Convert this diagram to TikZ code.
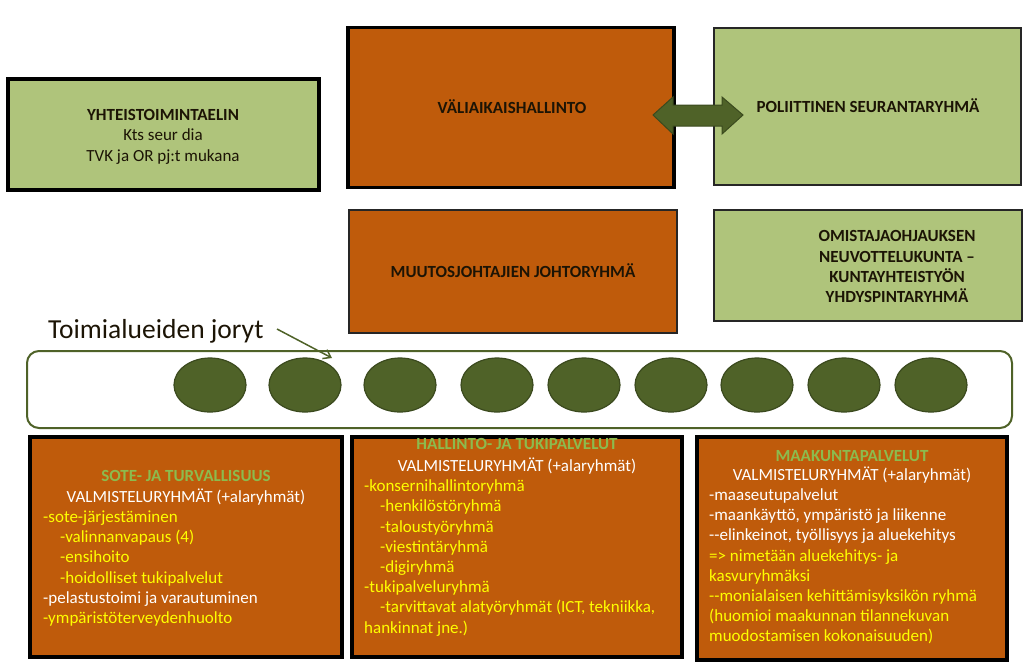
\documentclass[tikz,border=0pt]{standalone}
\usepackage{fontspec}
\setmainfont{Carlito}
\usetikzlibrary{arrows.meta,shapes.geometric}
\definecolor{orangefill}{HTML}{BF5B0B}
\definecolor{greenfill}{HTML}{AFC47B}
\definecolor{olive}{HTML}{4F6228}
\definecolor{olivedark}{HTML}{3B4A1E}
\definecolor{headgreen}{HTML}{8CBB4E}
\definecolor{txtyellow}{HTML}{FFFF00}
\definecolor{darktxt}{HTML}{1C1405}
\begin{document}
\begin{tikzpicture}[x=1pt,y=-1pt,
  thickbox/.style={draw=black,line width=3.5pt,inner sep=0pt},
  thinbox/.style={draw=black!85,line width=1.5pt,inner sep=0pt},
  obox/.style={fill=orangefill},
  gbox/.style={fill=greenfill},
  toptext/.style={font=\fontsize{17}{20.3}\selectfont\bfseries,text=darktxt,inner sep=0pt,anchor=base},
  toptextreg/.style={font=\fontsize{17}{20.3}\selectfont,text=darktxt,inner sep=0pt,anchor=base},
  blob/.style={ellipse,fill=olive,draw=olivedark,line width=1.2pt,minimum width=72pt,minimum height=54pt,inner sep=0pt},
  headg/.style={font=\fontsize{17}{20.2}\selectfont\bfseries,text=headgreen,inner sep=0pt,anchor=base},
  headw/.style={font=\fontsize{17}{20.2}\selectfont,text=white,inner sep=0pt,anchor=base},
  ly/.style={font=\fontsize{17}{20.2}\selectfont,text=txtyellow,inner sep=0pt,anchor=base west},
  lw/.style={font=\fontsize{17}{20.2}\selectfont,text=white,inner sep=0pt,anchor=base west}
]
\useasboundingbox (0,0) rectangle (1024,665);

% top row
\node[thickbox,gbox,minimum width=311pt,minimum height=111pt] (yht) at (163.5,134.5) {};
\node[toptext] (yhtA) at (163,120) {YHTEISTOIMINTAELIN};
\node[toptextreg] (yhtB) at (163,140.5) {Kts seur dia};
\node[toptextreg] (yhtC) at (163,161) {TVK ja OR pj:t mukana};

\node[thickbox,obox,minimum width=326pt,minimum height=160pt] (vali) at (511,107.5) {};
\node[toptext] (valiT) at (512,113) {VÄLIAIKAISHALLINTO};

\node[thinbox,gbox,minimum width=307pt,minimum height=157pt] (pol) at (867.5,106.5) {};
\node[toptext] (polT) at (868,112.7) {POLIITTINEN SEURANTARYHMÄ};

% double arrow between the two boxes
\filldraw[fill=olive,draw=olivedark,line width=1pt]
  (653,115) -- (673,97) -- (673,105) -- (722,105) -- (722,97) -- (743,115)
  -- (722,134) -- (722,126) -- (673,126) -- (673,134) -- cycle;

% second row
\node[thinbox,obox,minimum width=328pt,minimum height=123pt] (muu) at (513,271.5) {};
\node[toptext] (muuT) at (513,277) {MUUTOSJOHTAJIEN JOHTORYHMÄ};

\node[thinbox,gbox,minimum width=308pt,minimum height=111pt] (omi) at (868,265.5) {};
\node[toptext] (omiA) at (897,241.7) {OMISTAJAOHJAUKSEN};
\node[toptext] (omiB) at (897,262) {NEUVOTTELUKUNTA –};
\node[toptext] (omiC) at (897,282.5) {KUNTAYHTEISTYÖN};
\node[toptext] (omiD) at (897,302.5) {YHDYSPINTARYHMÄ};

% joryt band
\node[font=\fontsize{27.5}{30}\selectfont,anchor=base west,inner sep=0pt,text=darktxt] (jor) at (48,338.3) {Toimialueiden joryt};
\node[draw=olive,line width=2pt,rounded corners=12pt,minimum width=985pt,minimum height=77pt,inner sep=0pt] (band) at (519.5,389.5) {};
\coordinate (arrS) at (277,329);
\coordinate (arrE) at (332,358);
\draw[olive,line width=1.5pt,-{Straight Barb[length=7pt,width=10pt]}] (arrS) -- (arrE);

\foreach \i/\x in {1/210,2/305,3/400,4/497,5/584,6/671,7/757,8/844,9/931}{
  \node[blob] (b\i) at (\x,385) {};
}

% bottom left box
\node[thickbox,obox,minimum width=312pt,minimum height=220pt] (sote) at (186,547) {};
\node[headg] (soteH) at (186,481.7) {SOTE- JA TURVALLISUUS};
\node[headw] (soteV) at (186,502.5) {VALMISTELURYHMÄT (+alaryhmät)};
\node[ly] (s1) at (43,522.7) {-sote-järjestäminen};
\node[ly] (s2) at (60,542.8) {-valinnanvapaus (4)};
\node[ly] (s3) at (60,562.9) {-ensihoito};
\node[ly] (s4) at (60,583.0) {-hoidolliset tukipalvelut};
\node[lw] (s5) at (43,603.1) {-pelastustoimi ja varautuminen};
\node[ly] (s6) at (43,623.2) {-ympäristöterveydenhuolto};

% bottom middle box
\node[thickbox,obox,minimum width=330pt,minimum height=220pt] (hal) at (517,547) {};
\node[headg] (halH) at (517,449) {HALLINTO- JA TUKIPALVELUT};
\node[headw] (halV) at (517,471) {VALMISTELURYHMÄT (+alaryhmät)};
\node[ly] (h1) at (364,491.7) {-konsernihallintoryhmä};
\node[ly] (h2) at (380,511.9) {-henkilöstöryhmä};
\node[ly] (h3) at (380,532.1) {-taloustyöryhmä};
\node[ly] (h4) at (380,552.3) {-viestintäryhmä};
\node[ly] (h5) at (380,572.5) {-digiryhmä};
\node[ly] (h6) at (364,592.7) {-tukipalveluryhmä};
\node[ly] (h7) at (380,612.9) {-tarvittavat alatyöryhmät (ICT, tekniikka,};
\node[ly] (h8) at (364,633.1) {hankinnat jne.)};

% bottom right box
\node[thickbox,obox,minimum width=310pt,minimum height=223pt] (maa) at (852,548.5) {};
\node[headg] (maaH) at (852,461) {MAAKUNTAPALVELUT};
\node[headw] (maaV) at (852,480.5) {VALMISTELURYHMÄT (+alaryhmät)};
\node[lw] (m1) at (709,500.5) {-maaseutupalvelut};
\node[lw] (m2) at (709,520.7) {-maankäyttö, ympäristö ja liikenne};
\node[lw] (m3) at (709,540.9) {-{}-elinkeinot, työllisyys ja aluekehitys};
\node[ly] (m4) at (709,561.1) {=> nimetään aluekehitys- ja};
\node[ly] (m5) at (709,581.3) {kasvuryhmäksi};
\node[ly] (m6) at (709,601.5) {-{}-monialaisen kehittämisyksikön ryhmä};
\node[ly] (m7) at (709,621.7) {(huomioi maakunnan tilannekuvan};
\node[ly] (m8) at (709,641.9) {muodostamisen kokonaisuuden)};
\end{tikzpicture}
\end{document}
